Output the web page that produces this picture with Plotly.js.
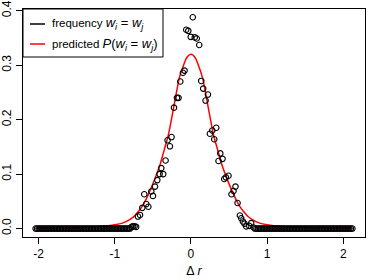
<!DOCTYPE html>
<html><head><meta charset="utf-8">
<script src="https://cdn.plot.ly/plotly-3.0.1.min.js"></script>
<style>html,body{margin:0;padding:0;background:#fff}#chart{width:374px;height:280px}</style>
</head><body><div id="chart"></div>
<script>
// observed frequency points (Δr, frequency)
const freqX = [
 -2.04,-2.02,-2.00,-1.98,-1.96,-1.94,-1.92,-1.90,-1.88,-1.86,
 -1.84,-1.82,-1.80,-1.78,-1.76,-1.74,-1.72,-1.70,-1.68,-1.66,
 -1.64,-1.62,-1.60,-1.58,-1.56,-1.54,-1.52,-1.50,-1.48,-1.46,
 -1.44,-1.42,-1.40,-1.38,-1.36,-1.34,-1.32,-1.30,-1.28,-1.26,
 -1.24,-1.22,-1.20,-1.18,-1.16,-1.14,-1.12,-1.10,-1.08,-1.06,
 -1.04,-1.02,-1.00,-0.98,-0.96,-0.94,-0.92,-0.90,-0.88,-0.86,
 -0.84,-0.82,-0.80,
 -0.78,-0.76,-0.74,-0.72,
 -0.696,-0.669,-0.639,-0.613,-0.587,-0.560,-0.521,-0.499,-0.472,-0.442,
 -0.412,-0.390,-0.364,-0.333,-0.307,-0.276,-0.255,-0.223,-0.184,-0.163,
 -0.140,-0.105,-0.084,-0.062,-0.035,-0.003,0.024,0.050,0.076,0.109,
 0.135,0.161,0.192,0.223,0.249,0.280,0.306,0.332,0.362,0.385,
 0.415,0.437,0.459,0.493,0.533,0.559,0.585,0.612,0.643,0.660,
 0.682,0.703,0.726,0.765,0.791,0.822,
 0.84,0.86,0.88,0.90,0.92,0.94,0.96,0.98,1.00,1.02,
 1.04,1.06,1.08,1.10,1.12,1.14,1.16,1.18,1.20,1.22,
 1.24,1.26,1.28,1.30,1.32,1.34,1.36,1.38,1.40,1.42,
 1.44,1.46,1.48,1.50,1.52,1.54,1.56,1.58,1.60,1.62,
 1.64,1.66,1.68,1.70,1.72,1.74,1.76,1.78,1.80,1.82,
 1.84,1.86,1.88,1.90,1.92,1.94,1.96,1.98,2.00,2.02,
 2.04,2.06,2.08,2.10,2.12
];
const freqY = [
 0,0,0,0,0,0,0,0,0,0,
 0,0,0,0,0,0,0,0,0,0,
 0,0,0,0,0,0,0,0,0,0,
 0,0,0,0,0,0,0,0,0,0,
 0,0,0,0,0,0,0,0,0,0,
 0,0,0,0,0,0,0,0,0,0,
 0,0,0,
 0.003,0.004,0.004,0.003,
 0.022,0.025,0.038,0.063,0.045,0.040,0.068,0.060,0.077,0.089,
 0.100,0.111,0.100,0.125,0.162,0.151,0.168,0.222,0.240,0.240,
 0.270,0.286,0.290,0.365,0.363,0.352,0.388,0.351,0.349,0.337,
 0.271,0.257,0.235,0.246,0.174,0.180,0.164,0.185,0.124,0.138,
 0.128,0.091,0.094,0.097,0.063,0.069,0.077,0.047,0.024,0.019,
 0.013,0.009,0.004,0.005,0.010,0.002,
 0,0,0,0,0,0,0,0,0,0,
 0,0,0,0,0,0,0,0,0,0,
 0,0,0,0,0,0,0,0,0,0,
 0,0,0,0,0,0,0,0,0,0,
 0,0,0,0,0,0,0,0,0,0,
 0,0,0,0,0,0,0,0,0,0,
 0,0,0,0,0
];
// predicted P(w_i = w_j) curve
const predX = [-2.04,-1.8,-1.6,-1.4,-1.2,-1.0,-0.9,-0.8,-0.75,-0.7,-0.65,-0.6,-0.55,-0.5,-0.45,-0.4,-0.35,-0.3,-0.25,-0.2,-0.15,-0.1,-0.05,
  0,0.05,0.1,0.15,0.2,0.25,0.3,0.35,0.4,0.45,0.5,0.55,0.6,0.65,0.7,0.75,0.8,0.9,1.0,1.2,1.4,1.6,1.8,2.12];
const predY = [0.0007,0.0011,0.0015,0.0022,0.0036,0.0068,0.010,0.017,0.022,0.030,0.039,0.051,0.066,0.082,0.100,0.120,0.145,0.170,0.205,0.243,0.278,0.299,0.315,
  0.320,0.315,0.299,0.278,0.243,0.205,0.170,0.145,0.120,0.100,0.082,0.066,0.051,0.039,0.030,0.022,0.017,0.010,0.0068,0.0036,0.0022,0.0015,0.0011,0.0007];

const xTickVals = [-2,-1,0,1,2];
const xTickText = ['-2','-1','0','1','2'];
const yTickVals = [0,0.1,0.2,0.3,0.4];
const yTickText = ['0.0','0.1','0.2','0.3','0.4'];
const legendLabels = ['frequency <span style="font-size:13px"><i>w<sub>i</sub></i> = <i>w<sub>j</sub></i></span>',
                      'predicted <span style="font-size:13px"><i>P</i>(<i>w<sub>i</sub></i> = <i>w<sub>j</sub></i>)</span>'];
const legendColors = ['#000000','#ff0000'];
const xTitle = 'Δ <i>r</i>';

const FONT = 'Liberation Sans, Arial, Helvetica, sans-serif';

const traces = [
  {x: predX, y: predY, type:'scatter', mode:'lines', line:{color:'#ff0000', width:1.5, shape:'spline', smoothing:0.8}, showlegend:false, hoverinfo:'skip'},
  {x: freqX, y: freqY, type:'scatter', mode:'markers', marker:{symbol:'circle-open', size:5.5, color:'#000', line:{width:1.1, color:'#000'}}, showlegend:false, hoverinfo:'skip'}
];

// legend drawn manually (R-style box)
const plotW = 374-23-9, plotH = 280-9-43;
const px = v => (v-23)/plotW;
const py = v => (237-v)/plotH;
const shapes = [
  {type:'rect', xref:'paper', yref:'paper', x0:px(23), x1:px(163), y0:py(57), y1:py(9), line:{color:'#000', width:1}, fillcolor:'#fff', layer:'above'},
  {type:'line', xref:'paper', yref:'paper', x0:px(30), x1:px(45), y0:py(24), y1:py(24), line:{color:legendColors[0], width:1.5}, layer:'above'},
  {type:'line', xref:'paper', yref:'paper', x0:px(30), x1:px(45), y0:py(44), y1:py(44), line:{color:legendColors[1], width:1.5}, layer:'above'}
];
const annotations = [
  {xref:'paper', yref:'paper', x:px(50), y:py(24), xanchor:'left', yanchor:'middle', text:legendLabels[0], showarrow:false, font:{family:FONT, size:11.5, color:'#000'}},
  {xref:'paper', yref:'paper', x:px(50), y:py(44), xanchor:'left', yanchor:'middle', text:legendLabels[1], showarrow:false, font:{family:FONT, size:11.5, color:'#000'}}
];

const axisCommon = {
  showgrid:false, zeroline:false, showline:true, mirror:true, linecolor:'#000', linewidth:1,
  ticks:'outside', ticklen:6, tickwidth:1, tickcolor:'#000',
  tickfont:{family:FONT, size:12, color:'#000'}, tickmode:'array', fixedrange:true
};

const layout = {
  width:374, height:280,
  margin:{l:23, r:9, t:9, b:43, pad:0},
  paper_bgcolor:'#fff', plot_bgcolor:'#fff',
  font:{family:FONT, size:12, color:'#000'},
  showlegend:false,
  xaxis: Object.assign({}, axisCommon, {range:[-2.206, 2.286], tickvals:xTickVals, ticktext:xTickText,
    title:{text:xTitle, font:{family:FONT, size:12.5, color:'#000'}, standoff:5}, automargin:false}),
  yaxis: Object.assign({}, axisCommon, {range:[-0.0155, 0.4031], tickvals:yTickVals, ticktext:yTickText, tickangle:-90, automargin:false}),
  shapes: shapes,
  annotations: annotations
};

Plotly.newPlot('chart', traces, layout, {displayModeBar:false, staticPlot:true});
</script>
</body></html>
